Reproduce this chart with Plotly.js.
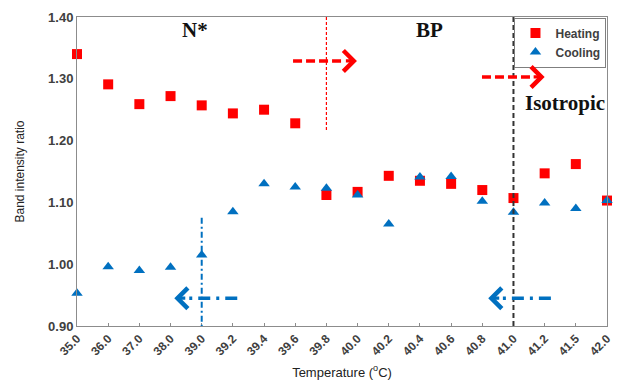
<!DOCTYPE html>
<html>
<head>
<meta charset="utf-8">
<script src="https://cdn.plot.ly/plotly-3.0.1.min.js"></script>
<style>html,body{margin:0;padding:0;background:#fff;}#chart{width:620px;height:380px;}</style>
</head>
<body>
<div id="chart"></div>
<script>
const temperatures = ['35.0','36.0','37.0','38.0','39.0','39.2','39.4','39.6','39.8','40.0','40.2','40.4','40.6','40.8','41.0','41.2','41.5','42.0'];
const heating = [1.340,1.291,1.259,1.272,1.257,1.244,1.250,1.228,1.112,1.117,1.143,1.135,1.130,1.120,1.107,1.147,1.162,1.103];
const cooling = [0.953,0.996,0.990,0.995,1.015,1.085,1.130,1.125,1.123,1.112,1.065,1.141,1.142,1.102,1.084,1.099,1.090,1.103];
const yTicks = [0.90,1.00,1.10,1.20,1.30,1.40];

const RED = '#ff0000', BLUE = '#0070c0', AX = '#8c8c8c', TXT = '#404040';

const traces = [
  {x: temperatures, y: heating, name: 'Heating', type: 'scatter', mode: 'markers', cliponaxis: false,
   marker: {symbol: 'square', size: 10, color: RED}},
  {x: temperatures, y: cooling, name: 'Cooling', type: 'scatter', mode: 'markers', cliponaxis: false,
   marker: {symbol: 'triangle-up', size: 10, color: BLUE}}
];

const shapes = [
  // phase boundary lines
  {type:'line', xref:'x', yref:'y', x0:8, x1:8, y0:1.40, y1:1.215, line:{color:RED, width:1.2, dash:'3px,2px'}},
  {type:'line', xref:'x', yref:'y', x0:14, x1:14, y0:1.40, y1:0.90, line:{color:'#333333', width:2, dash:'5px,3px'}},
  {type:'line', xref:'x', yref:'y', x0:4, x1:4, y0:1.075, y1:0.888, line:{color:BLUE, width:2, dash:'6px,3px,2px,3px'}},
  // red dashed arrows (shafts)
  {type:'line', xref:'x', yref:'y', x0:6.93, x1:8.6, y0:1.329, y1:1.329, line:{color:RED, width:3.5, dash:'9px,4px'}},
  {type:'line', xref:'x', yref:'y', x0:12.99, x1:14.6, y0:1.303, y1:1.303, line:{color:RED, width:3.5, dash:'9px,4px'}},
  // blue dash-dot arrows (shafts)
  {type:'line', xref:'x', yref:'y', x0:5.14, x1:3.5, y0:0.945, y1:0.945, line:{color:BLUE, width:3.5, dash:'12px,6px,3px,6px'}},
  {type:'line', xref:'x', yref:'y', x0:15.2, x1:13.55, y0:0.945, y1:0.945, line:{color:BLUE, width:3.5, dash:'12px,6px,3px,6px'}}
];

function head(xEnd, y, dir, color) {
  return {x: xEnd, y: y, xref:'x', yref:'y', ax: -dir*14, ay: 0, axref:'pixel', ayref:'pixel',
    text:' ', showarrow:true, arrowhead:4, arrowsize:1.25, arrowwidth:3.2, arrowcolor: color, standoff:0};
}

const serif = {family:'Liberation Serif, Times New Roman, serif', size:21, color:'#111111', weight:'bold'};
const annotations = [
  {x:3.79, y:1.379, xref:'x', yref:'y', text:'<b>N*</b>', showarrow:false, font:serif},
  {x:11.3, y:1.379, xref:'x', yref:'y', text:'<b>BP</b>', showarrow:false, font:serif},
  {x:15.65, y:1.261, xref:'x', yref:'y', text:'<b>Isotropic</b>', showarrow:false, font:serif},
  head(8.98, 1.329, 1, RED),
  head(15.0, 1.303, 1, RED),
  head(3.12, 0.945, -1, BLUE),
  head(13.19, 0.945, -1, BLUE)
];

const layout = {
  width: 620, height: 380,
  margin: {l: 77, r: 13, t: 17, b: 54},
  paper_bgcolor: '#ffffff', plot_bgcolor: '#ffffff',
  showlegend: true,
  legend: {x: 0.999, xanchor: 'right', y: 0.998, yanchor: 'top',
    bgcolor: '#ffffff', bordercolor: '#7f7f7f', borderwidth: 1,
    font: {family: 'Liberation Sans, Arial, sans-serif', size: 12, color: TXT, weight: 'bold'},
    itemwidth: 30, tracegroupgap: 4},
  xaxis: {type: 'category', range: [0, 17], showgrid: false, zeroline: false,
    showline: true, linecolor: AX, linewidth: 1, mirror: true,
    ticks: 'inside', ticklen: 3, tickcolor: AX, tickangle: -45,
    tickfont: {family: 'Liberation Sans, Arial, sans-serif', size: 12, color: TXT, weight: 'bold'},
    title: {text: 'Temperature (<sup>o</sup>C)', standoff: 10,
      font: {family: 'Liberation Sans, Arial, sans-serif', size: 13, color: '#222222'}}},
  yaxis: {range: [0.90, 1.40], tickvals: yTicks, ticktext: yTicks.map(v => v.toFixed(2)),
    showgrid: false, zeroline: false, showline: true, linecolor: AX, linewidth: 1, mirror: true,
    ticks: '', tickfont: {family: 'Liberation Sans, Arial, sans-serif', size: 13, color: TXT, weight: 'bold'},
    title: {text: 'Band intensity ratio', standoff: 20,
      font: {family: 'Liberation Sans, Arial, sans-serif', size: 12, color: '#222222'}}},
  shapes: shapes,
  annotations: annotations
};

Plotly.newPlot('chart', traces, layout, {displayModeBar: false, staticPlot: true});
</script>
</body>
</html>
